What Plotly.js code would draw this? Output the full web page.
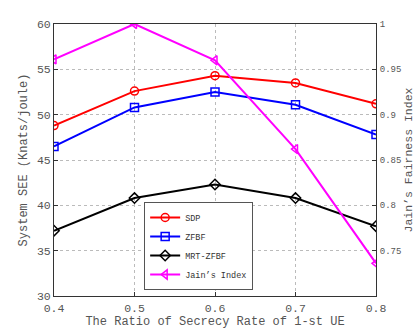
<!DOCTYPE html>
<html>
<head>
<meta charset="utf-8">
<script src="https://cdn.plot.ly/plotly-3.0.1.min.js"></script>
<style>
  html, body { margin: 0; padding: 0; background: #fff; }
  #chart { width: 415px; height: 333px; }
</style>
</head>
<body>
<div id="chart"></div>
<script>
// ratio of secrecy rate of the 1st UE
var ratio = [0.4, 0.5, 0.6, 0.7, 0.8];

// system SEE, Knats/joule (left axis)
var sdp = [48.8, 52.6, 54.3, 53.5, 51.2];
var zfbf = [46.5, 50.8, 52.5, 51.1, 47.8];
var mrtZfbf = [37.2, 40.8, 42.3, 40.8, 37.7];

// Jain's fairness index (right axis)
var jain = [0.961, 1.0, 0.96, 0.862, 0.736];

var leftTicks = [30, 35, 40, 45, 50, 55, 60];
var rightTicks = [0.75, 0.8, 0.85, 0.9, 0.95, 1];
var rightLabels = ['0.75', '0.8', '0.85', '0.9', '0.95', '1'];

var mono = 'Liberation Mono, Courier New, monospace';

function series(name, y, color, symbol, axis) {
    return {
        x: ratio,
        y: y,
        name: name,
        yaxis: axis,
        type: 'scatter',
        mode: 'lines+markers',
        line: {color: color, width: 2},
        marker: {symbol: symbol, size: 8, color: color, line: {color: color, width: 1.5}}
    };
}

var data = [
    series('SDP', sdp, '#ff0000', 'circle-open', 'y'),
    series('ZFBF', zfbf, '#0000ff', 'square-open', 'y'),
    series('MRT-ZFBF', mrtZfbf, '#000000', 'diamond-open', 'y'),
    series('Jain\u2019s Index', jain, '#ff00ff', 'triangle-left-open', 'y2')
];

var layout = {
    width: 415,
    height: 333,
    margin: {l: 54, r: 39, t: 24, b: 37},
    paper_bgcolor: '#fff',
    plot_bgcolor: '#fff',
    font: {family: mono, size: 12, color: '#555'},
    showlegend: true,
    legend: {
        x: 0.28, y: 0.022, xanchor: 'left', yanchor: 'bottom',
        bgcolor: '#fff', bordercolor: '#555', borderwidth: 1,
        font: {family: mono, size: 8.5, color: '#333'},
        tracegroupgap: 0
    },
    xaxis: {
        range: [0.4, 0.8],
        tickvals: ratio,
        ticktext: ['0.4', '0.5', '0.6', '0.7', '0.8'],
        tickfont: {size: 11.5},
        ticklabelstandoff: 1,
        showgrid: true,
        gridcolor: '#bbb',
        griddash: 'dot',
        showline: true,
        linecolor: '#333',
        linewidth: 1,
        mirror: true,
        ticks: 'inside',
        ticklen: 4,
        tickcolor: '#333',
        zeroline: false,
        title: {text: 'The Ratio of Secrecy Rate of 1-st UE', font: {size: 12}, standoff: 1}
    },
    yaxis: {
        range: [30, 60],
        tickvals: leftTicks,
        tickfont: {size: 11.5},
        showgrid: true,
        gridcolor: '#bbb',
        griddash: 'dot',
        showline: true,
        linecolor: '#333',
        linewidth: 1,
        ticks: 'inside',
        ticklen: 4,
        tickcolor: '#333',
        zeroline: false,
        title: {text: 'System SEE (Knats/joule)', font: {size: 12}, standoff: 6}
    },
    yaxis2: {
        overlaying: 'y',
        side: 'right',
        range: [0.7, 1],
        tickvals: rightTicks,
        ticktext: rightLabels,
        tickfont: {size: 9},
        ticklabelstandoff: 1,
        showgrid: false,
        showline: true,
        linecolor: '#333',
        linewidth: 1,
        ticks: 'inside',
        ticklen: 4,
        tickcolor: '#333',
        zeroline: false,
        title: {text: 'Jain\u2019s Fairness Index', font: {size: 11.5}, standoff: 4}
    }
};

Plotly.newPlot('chart', data, layout, {displayModeBar: false, staticPlot: true});
</script>
</body>
</html>
